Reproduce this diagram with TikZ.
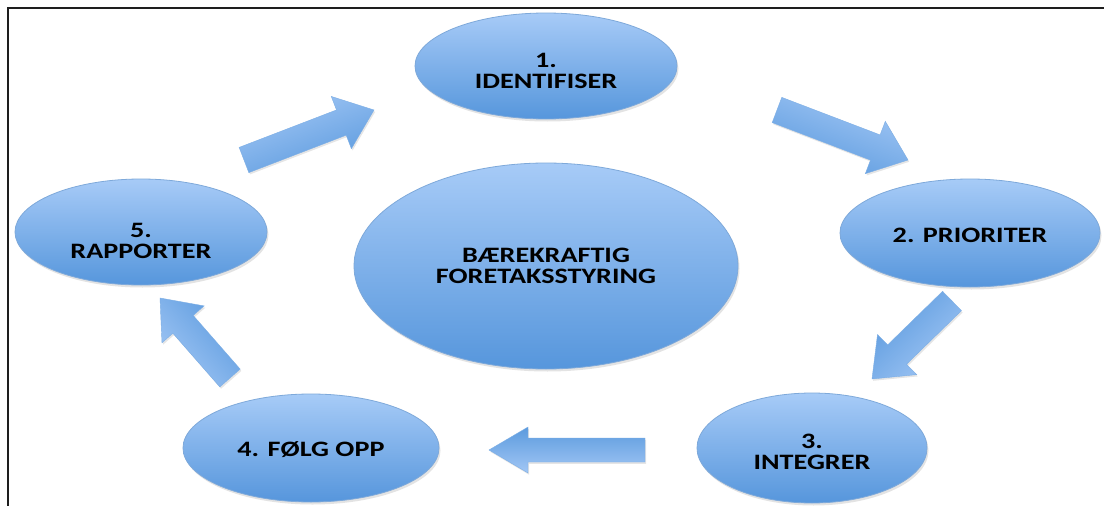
\documentclass[tikz,border=0pt]{standalone}
\usepackage{fontspec}
\newfontfamily\lblfont[FakeStretch=1.28]{Carlito}
\usetikzlibrary{calc,shapes.geometric,shadows}

\definecolor{ellTop}{HTML}{A7CBF7}
\definecolor{ellBot}{HTML}{5696DC}
\definecolor{ellEdge}{HTML}{7EA9DA}
\definecolor{arrLight}{HTML}{A2C7F5}
\definecolor{arrDark}{HTML}{5B9ADE}
\definecolor{frameInk}{HTML}{1E1E1E}

\tikzset{
  stage/.style={ellipse, draw=ellEdge, line width=0.8pt,
    top color=ellTop, bottom color=ellBot, inner sep=0pt,
    drop shadow={opacity=0.22, shadow xshift=1.5pt, shadow yshift=-2.5pt}},
  lbl/.style={font=\lblfont\bfseries\fontsize{22}{20.5}\selectfont,
    align=center, text=black, inner sep=0pt},
  arrowbody/.style={draw=arrDark!80!white, line width=0.4pt,
    top color=arrLight, bottom color=arrDark,
    drop shadow={opacity=0.2, shadow xshift=1.2pt, shadow yshift=-1.8pt}},
  frameline/.style={draw=frameInk, line width=2pt}
}

% block arrow: tail centre, tip, half shaft width, half head width, head length (pt), shading angle
\newcommand\blockarrow[6]{%
  \coordinate (hb) at ($(#2)!#5pt!(#1)$);
  \path[arrowbody, shading angle=#6]
    ($(#1)!#3pt!90:(#2)$) -- ($(hb)!#3pt!90:(#2)$) -- ($(hb)!#4pt!90:(#2)$) -- (#2)
    -- ($(hb)!#4pt!-90:(#2)$) -- ($(hb)!#3pt!-90:(#2)$) -- ($(#1)!#3pt!-90:(#2)$) -- cycle;
}

\begin{document}
\begin{tikzpicture}[x=1pt, y=-1pt]
  \useasboundingbox (0,0) rectangle (1104,506);
  \fill[white] (0,0) rectangle (1104,506);

  % frame on the top and left sides
  \coordinate (fTL) at (8,8);
  \coordinate (fTR) at (1104,8);
  \coordinate (fBL) at (8,506);
  \draw[frameline] (fTR) -- (fTL) -- (fBL);

  % stages
  \node[stage, minimum width=262, minimum height=106] (e1) at (546,66) {};
  \node[stage, minimum width=260, minimum height=108] (e2) at (970,233) {};
  \node[stage, minimum width=230, minimum height=110] (e3) at (812,448) {};
  \node[stage, minimum width=256, minimum height=108] (e4) at (311,448) {};
  \node[stage, minimum width=252, minimum height=106] (e5) at (141,232) {};
  \node[stage, minimum width=384, minimum height=206] (ec) at (546,266) {};

  \node[lbl] (t1) at ($(e1)+(0,5)$) {1.\\IDENTIFISER};
  \node[lbl] (t2) at ($(e2)+(0,2)$) {2. PRIORITER};
  \node[lbl] (t3) at ($(e3)+(0,4)$) {3.\\INTEGRER};
  \node[lbl] (t4) at ($(e4)+(0,2)$) {4. FØLG OPP};
  \node[lbl] (t5) at ($(e5)+(0,9)$) {5.\\RAPPORTER};
  \node[lbl] (tc) at ($(ec)+(0,0)$) {BÆREKRAFTIG\\FORETAKSSTYRING};

  % cycle arrows
  \coordinate (a1t) at (244,160); \coordinate (a1h) at (374,110);
  \coordinate (a2t) at (777,110); \coordinate (a2h) at (908,160);
  \coordinate (a3t) at (952,301); \coordinate (a3h) at (872,379);
  \coordinate (a4t) at (645,450); \coordinate (a4h) at (489,450);
  \coordinate (a5t) at (230,378); \coordinate (a5h) at (160,298);

  \blockarrow{a1t}{a1h}{13.5}{28}{35}{21}
  \blockarrow{a2t}{a2h}{13.5}{28}{35}{-21}
  \blockarrow{a3t}{a3h}{13.5}{28}{35}{224}
  \blockarrow{a4t}{a4h}{12}{23}{39}{180}
  \blockarrow{a5t}{a5h}{13.5}{28}{35}{131}
\end{tikzpicture}
\end{document}
